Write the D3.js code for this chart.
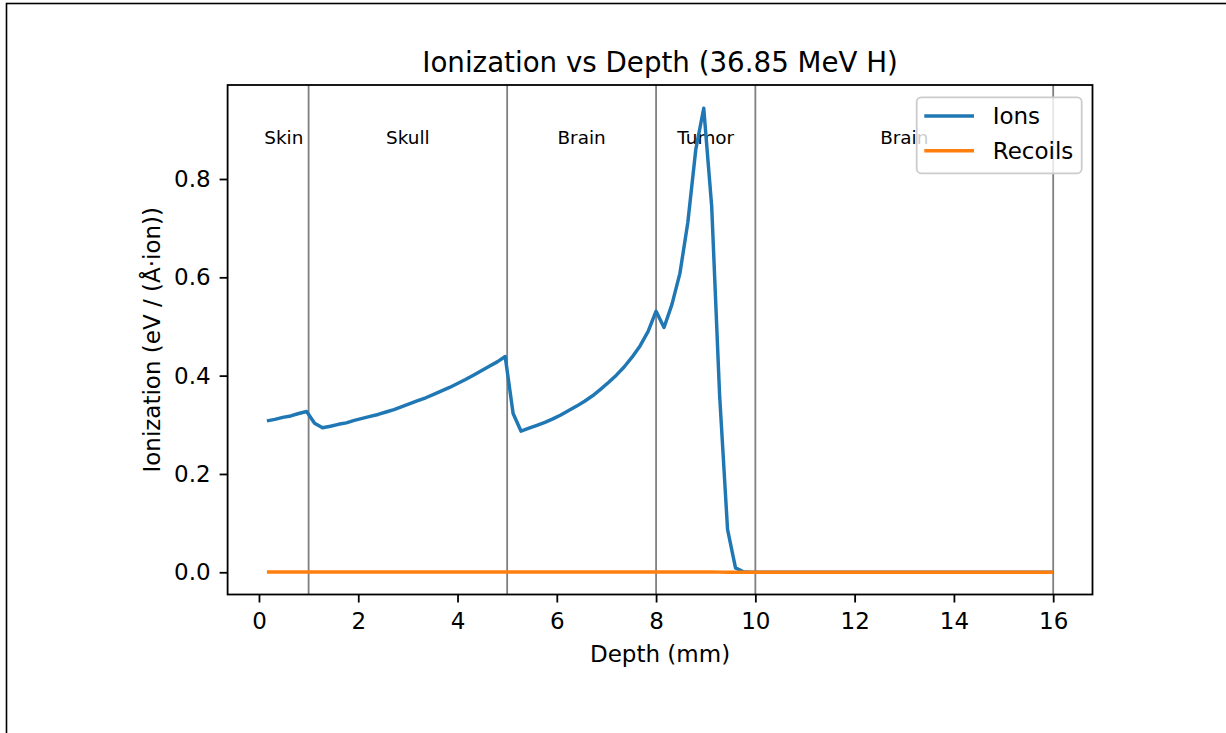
<!DOCTYPE html>
<html>
<head>
<meta charset="utf-8">
<script src="https://cdn.jsdelivr.net/npm/d3@7"></script>
<style>
  html, body { margin: 0; padding: 0; background: #fff; }
  svg { display: block; font-family: "DejaVu Sans", sans-serif; }
</style>
</head>
<body>
<svg id="chart" width="1226" height="733"></svg>
<script>
// Depth bins (mm)
const depth = [
  0.16, 0.32, 0.48, 0.64, 0.80, 0.96, 1.12, 1.28, 1.44, 1.60,
  1.76, 1.92, 2.08, 2.24, 2.40, 2.56, 2.72, 2.88, 3.04, 3.20,
  3.36, 3.52, 3.68, 3.84, 4.00, 4.16, 4.32, 4.48, 4.64, 4.80,
  4.96, 5.12, 5.28, 5.44, 5.60, 5.76, 5.92, 6.08, 6.24, 6.40,
  6.56, 6.72, 6.88, 7.04, 7.20, 7.36, 7.52, 7.68, 7.84, 8.00,
  8.16, 8.32, 8.48, 8.64, 8.80, 8.96, 9.12, 9.28, 9.44, 9.60,
  9.76, 9.92, 10.08, 10.24, 10.40, 10.56, 10.72, 10.88, 11.04, 11.20,
  11.36, 11.52, 11.68, 11.84, 12.00, 12.16, 12.32, 12.48, 12.64, 12.80,
  12.96, 13.12, 13.28, 13.44, 13.60, 13.76, 13.92, 14.08, 14.24, 14.40,
  14.56, 14.72, 14.88, 15.04, 15.20, 15.36, 15.52, 15.68, 15.84, 16.00
];

// Ionization from ions, eV / (Å·ion)
const ions = [
  0.308, 0.311, 0.315, 0.318, 0.323, 0.327, 0.303, 0.294, 0.297, 0.301,
  0.304, 0.309, 0.313, 0.317, 0.321, 0.326, 0.331, 0.337, 0.343, 0.349,
  0.355, 0.362, 0.369, 0.376, 0.384, 0.392, 0.401, 0.410, 0.419, 0.428,
  0.439, 0.323, 0.287, 0.293, 0.299, 0.305, 0.312, 0.320, 0.329, 0.338,
  0.348, 0.359, 0.372, 0.386, 0.401, 0.418, 0.438, 0.461, 0.490, 0.531,
  0.498, 0.545, 0.608, 0.712, 0.860, 0.944, 0.745, 0.360, 0.087, 0.009,
  0.001, 0, 0, 0, 0, 0, 0, 0, 0, 0,
  0, 0, 0, 0, 0, 0, 0, 0, 0, 0,
  0, 0, 0, 0, 0, 0, 0, 0, 0, 0,
  0, 0, 0, 0, 0, 0, 0, 0, 0, 0
];

// Ionization from recoils, eV / (Å·ion)
const recoils = [
  0.0004, 0.0004, 0.0004, 0.0004, 0.0004, 0.0004, 0.0004, 0.0004, 0.0004, 0.0004,
  0.0004, 0.0004, 0.0004, 0.0004, 0.0004, 0.0004, 0.0004, 0.0004, 0.0004, 0.0004,
  0.0004, 0.0004, 0.0004, 0.0004, 0.0004, 0.0004, 0.0004, 0.0004, 0.0004, 0.0004,
  0.0004, 0.0004, 0.0004, 0.0004, 0.0004, 0.0004, 0.0004, 0.0004, 0.0004, 0.0004,
  0.0004, 0.0004, 0.0004, 0.0004, 0.0004, 0.0004, 0.0004, 0.0004, 0.0004, 0.0005,
  0.0005, 0.0005, 0.0005, 0.0005, 0.0006, 0.0006, 0.0005, 0.0003, 0.0001, 0,
  0, 0, 0, 0, 0, 0, 0, 0, 0, 0,
  0, 0, 0, 0, 0, 0, 0, 0, 0, 0,
  0, 0, 0, 0, 0, 0, 0, 0, 0, 0,
  0, 0, 0, 0, 0, 0, 0, 0, 0, 0
];

// Layer boundaries (mm) and names
const boundaries = [1, 5, 8, 10, 16];
const layerStarts = [0, 1, 5, 8, 10];
const layerNames = ["Skin", "Skull", "Brain", "Tumor", "Brain"];

const xTicks = [0, 2, 4, 6, 8, 10, 12, 14, 16];
const yTicks = [0.0, 0.2, 0.4, 0.6, 0.8];

const seriesNames = ["Ions", "Recoils"];
const seriesColors = ["#1f77b4", "#ff7f0e"];

const svg = d3.select("#chart");

// outer frame
svg.append("rect")
  .attr("x", 6.5).attr("y", 3.5)
  .attr("width", 1300).attr("height", 800)
  .attr("fill", "none").attr("stroke", "#000").attr("stroke-width", 1.6);

const plot = { left: 227.6, right: 1092.5, top: 85, bottom: 594.5 };

const x = d3.scaleLinear().domain([-0.632, 16.792]).range([plot.left, plot.right]);
const y = d3.scaleLinear().domain([-0.0452, 0.9912]).range([plot.bottom, plot.top]);

const FONT = 23;

// layer boundary lines
svg.append("g").selectAll("line").data(boundaries).join("line")
  .attr("x1", d => x(d)).attr("x2", d => x(d))
  .attr("y1", plot.top).attr("y2", plot.bottom)
  .attr("stroke", "#000").attr("stroke-opacity", 0.5).attr("stroke-width", 1.8);

// layer labels
const labelLevel = 0.871;
svg.append("g").selectAll("text").data(layerNames).join("text")
  .attr("x", (d, i) => x((layerStarts[i] + boundaries[i]) / 2))
  .attr("y", y(labelLevel))
  .attr("text-anchor", "middle")
  .attr("font-size", 18.4)
  .attr("fill", "#000")
  .text(d => d);

// curves
const line = d3.line().x(d => x(d[0])).y(d => y(d[1]));
[ions, recoils].forEach((vals, k) => {
  svg.append("path")
    .datum(depth.map((d, i) => [d, vals[i]]))
    .attr("d", line)
    .attr("fill", "none")
    .attr("stroke", seriesColors[k])
    .attr("stroke-width", 3.45)
    .attr("stroke-linejoin", "round")
    .attr("stroke-linecap", "butt");
});

// axes
const xAxis = d3.axisBottom(x).tickValues(xTicks).tickSize(8).tickPadding(10)
  .tickFormat(d3.format("d"));
const yAxis = d3.axisLeft(y).tickValues(yTicks).tickSize(8).tickPadding(9)
  .tickFormat(d3.format(".1f"));

const gx = svg.append("g").attr("transform", `translate(0,${plot.bottom})`).call(xAxis);
const gy = svg.append("g").attr("transform", `translate(${plot.left},0)`).call(yAxis);
[gx, gy].forEach(g => {
  g.select(".domain").remove();
  g.selectAll(".tick line").attr("stroke", "#000").attr("stroke-width", 1.8);
  g.selectAll(".tick text").attr("font-size", FONT).attr("fill", "#000")
    .attr("font-family", "DejaVu Sans, sans-serif");
});

// frame of the axes
svg.append("rect")
  .attr("x", plot.left).attr("y", plot.top)
  .attr("width", plot.right - plot.left).attr("height", plot.bottom - plot.top)
  .attr("fill", "none").attr("stroke", "#000").attr("stroke-width", 1.8);

// titles
svg.append("text")
  .attr("x", (plot.left + plot.right) / 2).attr("y", 72)
  .attr("text-anchor", "middle").attr("font-size", 27.7)
  .text("Ionization vs Depth (36.85 MeV H)");

svg.append("text")
  .attr("x", (plot.left + plot.right) / 2).attr("y", 662)
  .attr("text-anchor", "middle").attr("font-size", FONT)
  .text("Depth (mm)");

svg.append("text")
  .attr("transform", `translate(160,${(plot.top + plot.bottom) / 2}) rotate(-90)`)
  .attr("text-anchor", "middle").attr("font-size", FONT)
  .text("Ionization (eV / (Å·ion))");

// legend
const lg = svg.append("g");
lg.append("rect")
  .attr("x", 916.7).attr("y", 97.3).attr("width", 165).attr("height", 76)
  .attr("rx", 4.5)
  .attr("fill", "#fff").attr("fill-opacity", 0.8)
  .attr("stroke", "#cccccc").attr("stroke-width", 1.8);
seriesNames.forEach((name, i) => {
  const cy = 116 + i * 34.7;
  lg.append("line")
    .attr("x1", 924.3).attr("x2", 974).attr("y1", cy).attr("y2", cy)
    .attr("stroke", seriesColors[i]).attr("stroke-width", 3.45);
  lg.append("text")
    .attr("x", 992.7).attr("y", cy).attr("dy", "0.36em")
    .attr("font-size", FONT).text(name);
});
</script>
</body>
</html>
